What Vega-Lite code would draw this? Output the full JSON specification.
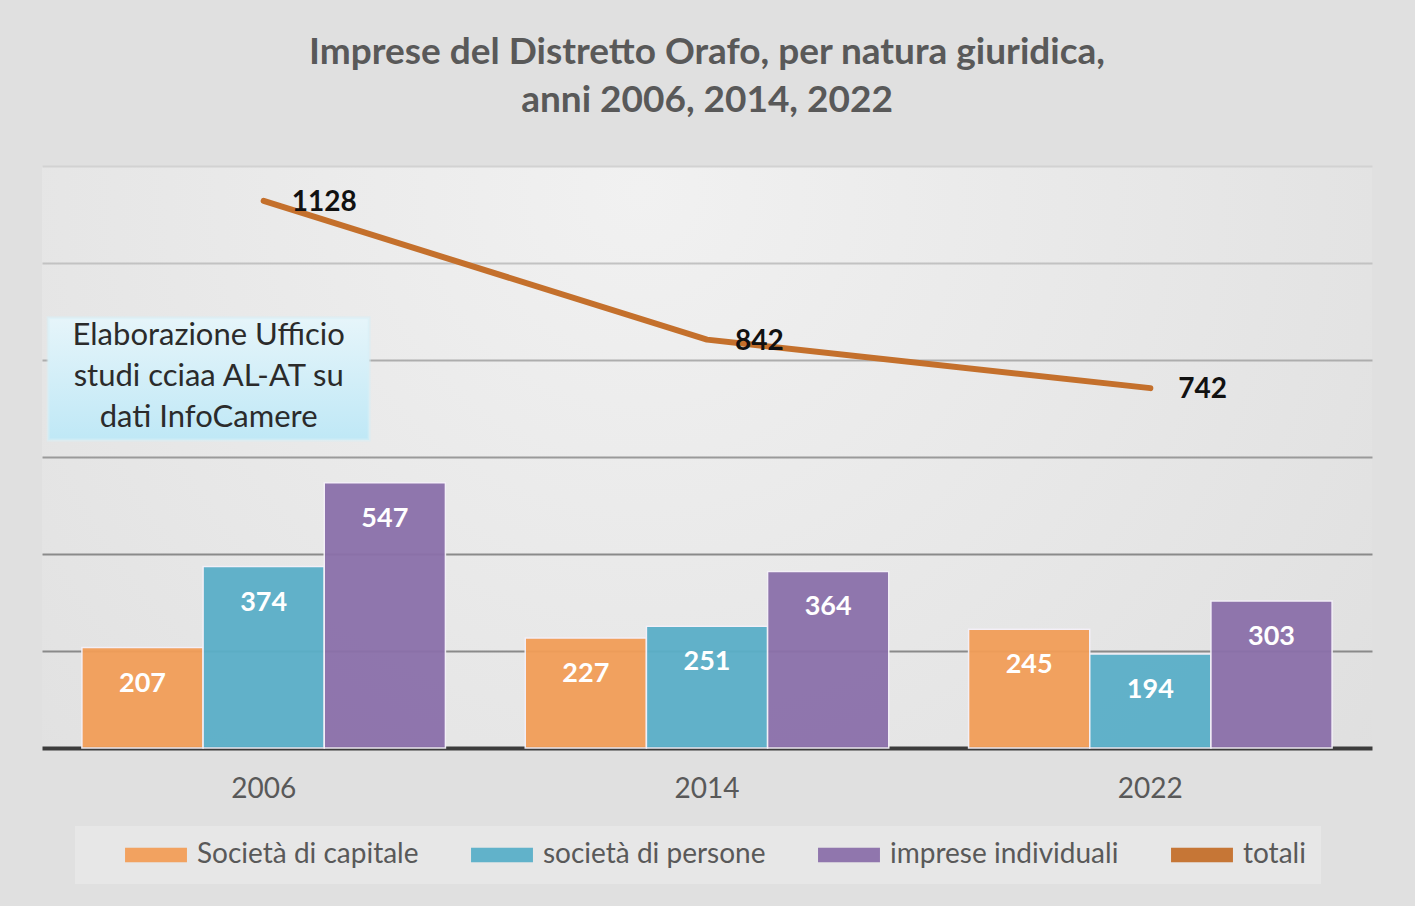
{
  "$schema": "https://vega.github.io/schema/vega-lite/v6.json",
  "width": 1330,
  "height": 582,
  "autosize": {"type": "none"},
  "padding": {"left": 42, "top": 166, "right": 43, "bottom": 158},
  "background": "#e0e0e0",
  "config": {
    "font": "Lato",
    "view": {
      "stroke": null,
      "fill": {
        "gradient": "radial",
        "x1": 0.45, "y1": 0.3, "r1": 0,
        "x2": 0.45, "y2": 0.3, "r2": 0.75,
        "stops": [
          {"offset": 0, "color": "#f1f1f1"},
          {"offset": 1, "color": "#dedede"}
        ]
      }
    }
  },
  "title": {
    "text": ["Imprese del Distretto Orafo, per natura giuridica,", "anni 2006, 2014, 2022"],
    "font": "Lato",
    "fontSize": 37,
    "fontWeight": "bold",
    "color": "#595959",
    "lineHeight": 48,
    "anchor": "middle",
    "baseline": "bottom",
    "offset": 9
  },
  "data": {
    "values": [
      {"anno": "2006", "tipo": "Società di capitale", "n": 207},
      {"anno": "2006", "tipo": "società di persone", "n": 374},
      {"anno": "2006", "tipo": "imprese individuali", "n": 547},
      {"anno": "2006", "tipo": "totali", "n": 1128},
      {"anno": "2014", "tipo": "Società di capitale", "n": 227},
      {"anno": "2014", "tipo": "società di persone", "n": 251},
      {"anno": "2014", "tipo": "imprese individuali", "n": 364},
      {"anno": "2014", "tipo": "totali", "n": 842},
      {"anno": "2022", "tipo": "Società di capitale", "n": 245},
      {"anno": "2022", "tipo": "società di persone", "n": 194},
      {"anno": "2022", "tipo": "imprese individuali", "n": 303},
      {"anno": "2022", "tipo": "totali", "n": 742}
    ]
  },
  "encoding": {
    "x": {
      "field": "anno",
      "type": "nominal",
      "scale": {"paddingInner": 0.18, "paddingOuter": 0.09},
      "axis": {
        "title": null,
        "labelAngle": 0,
        "labelFontSize": 28,
        "labelColor": "#595959",
        "labelPadding": 27,
        "ticks": false,
        "domainColor": "#3c3c3c",
        "domainWidth": 4,
        "grid": false
      }
    },
    "y": {
      "field": "n",
      "type": "quantitative",
      "scale": {"domain": [0, 1200], "nice": false},
      "axis": {
        "title": null,
        "labels": false,
        "ticks": false,
        "domain": false,
        "grid": true,
        "values": [200, 400, 600, 800, 1000, 1200],
        "gridWidth": 2,
        "gridColor": {
          "condition": [
            {"test": "datum.value >= 1200", "value": "#d2d2d2"},
            {"test": "datum.value >= 1000", "value": "#c2c2c2"},
            {"test": "datum.value >= 800", "value": "#adadad"},
            {"test": "datum.value >= 600", "value": "#9a9a9a"}
          ],
          "value": "#8a8a8a"
        }
      }
    }
  },
  "layer": [
    {
      "transform": [{"filter": "datum.tipo !== 'totali'"}],
      "mark": {"type": "bar", "stroke": "#f4f0f8", "strokeWidth": 1.5, "opacity": 0.95},
      "encoding": {
        "xOffset": {
          "field": "tipo",
          "type": "nominal",
          "sort": ["Società di capitale", "società di persone", "imprese individuali"],
          "scale": {"domain": ["Società di capitale", "società di persone", "imprese individuali"], "paddingInner": 0, "paddingOuter": 0}
        },
        "color": {
          "field": "tipo",
          "type": "nominal",
          "scale": {
            "domain": ["Società di capitale", "società di persone", "imprese individuali", "totali"],
            "range": ["#f29e58", "#5aafc8", "#8b70aa", "#c4702c"]
          },
          "legend": {
            "title": " ",
            "titleOrient": "left",
            "titleFontSize": 2,
            "titlePadding": 33,
            "orient": "none",
            "legendX": 33,
            "legendY": 660,
            "direction": "horizontal",
            "columns": 4,
            "columnPadding": 50,
            "padding": 15,
            "fillColor": "#e7e7e7",
            "strokeColor": null,
            "labelFontSize": 28,
            "labelColor": "#595959",
            "labelFont": "Lato",
            "labelOffset": 27,
            "symbolSize": 576,
            "symbolOffset": 19,
            "symbolStrokeWidth": 0,
            "symbolType": "M-2.58,-0.6 L2.58,-0.6 L2.58,0.6 L-2.58,0.6 Z",
            "labelLimit": 400
          }
        }
      }
    },
    {
      "transform": [{"filter": "datum.tipo !== 'totali'"}],
      "mark": {"type": "text", "color": "white", "fontSize": 27, "fontWeight": "bold", "baseline": "middle", "dy": 36, "font": "Lato"},
      "encoding": {
        "xOffset": {
          "field": "tipo",
          "type": "nominal",
          "sort": ["Società di capitale", "società di persone", "imprese individuali"],
          "scale": {"domain": ["Società di capitale", "società di persone", "imprese individuali"], "paddingInner": 0, "paddingOuter": 0}
        },
        "text": {"field": "n", "type": "quantitative"}
      }
    },
    {
      "transform": [{"filter": "datum.tipo === 'totali'"}],
      "mark": {"type": "line", "strokeWidth": 6, "strokeCap": "round", "strokeJoin": "round"},
      "encoding": {
        "color": {"field": "tipo", "type": "nominal", "legend": null}
      }
    },
    {
      "transform": [{"filter": "datum.tipo === 'totali'"}],
      "mark": {"type": "text", "color": "#111111", "fontSize": 28, "fontWeight": "bold", "align": "left", "baseline": "middle", "dx": 28, "dy": 2, "font": "Lato"},
      "encoding": {
        "text": {"field": "n", "type": "quantitative"}
      }
    },
    {
      "data": {"values": [{"anno": "2006", "alto": 887, "basso": 635}]},
      "mark": {
        "type": "bar",
        "width": 321,
        "xOffset": -55,
        "fill": {
          "gradient": "linear",
          "x1": 0, "y1": 0, "x2": 0, "y2": 1,
          "stops": [
            {"offset": 0, "color": "#e6f5fa"},
            {"offset": 1, "color": "#bfe8f6"}
          ]
        },
        "stroke": "#d8eef5",
        "strokeWidth": 3,
        "strokeOpacity": 0.6
      },
      "encoding": {
        "x": {"field": "anno", "type": "nominal"},
        "y": {"field": "alto", "type": "quantitative"},
        "y2": {"field": "basso"}
      }
    },
    {
      "data": {"values": [{"anno": "2006", "pos": 849, "nota": ["Elaborazione Ufficio", "studi cciaa AL-AT su", "dati InfoCamere"]}]},
      "mark": {"type": "text", "fontSize": 31, "lineHeight": 41, "color": "#2b2b2b", "baseline": "middle", "align": "center", "xOffset": -55, "font": "Lato"},
      "encoding": {
        "x": {"field": "anno", "type": "nominal"},
        "y": {"field": "pos", "type": "quantitative"},
        "text": {"field": "nota"}
      }
    }
  ]
}
